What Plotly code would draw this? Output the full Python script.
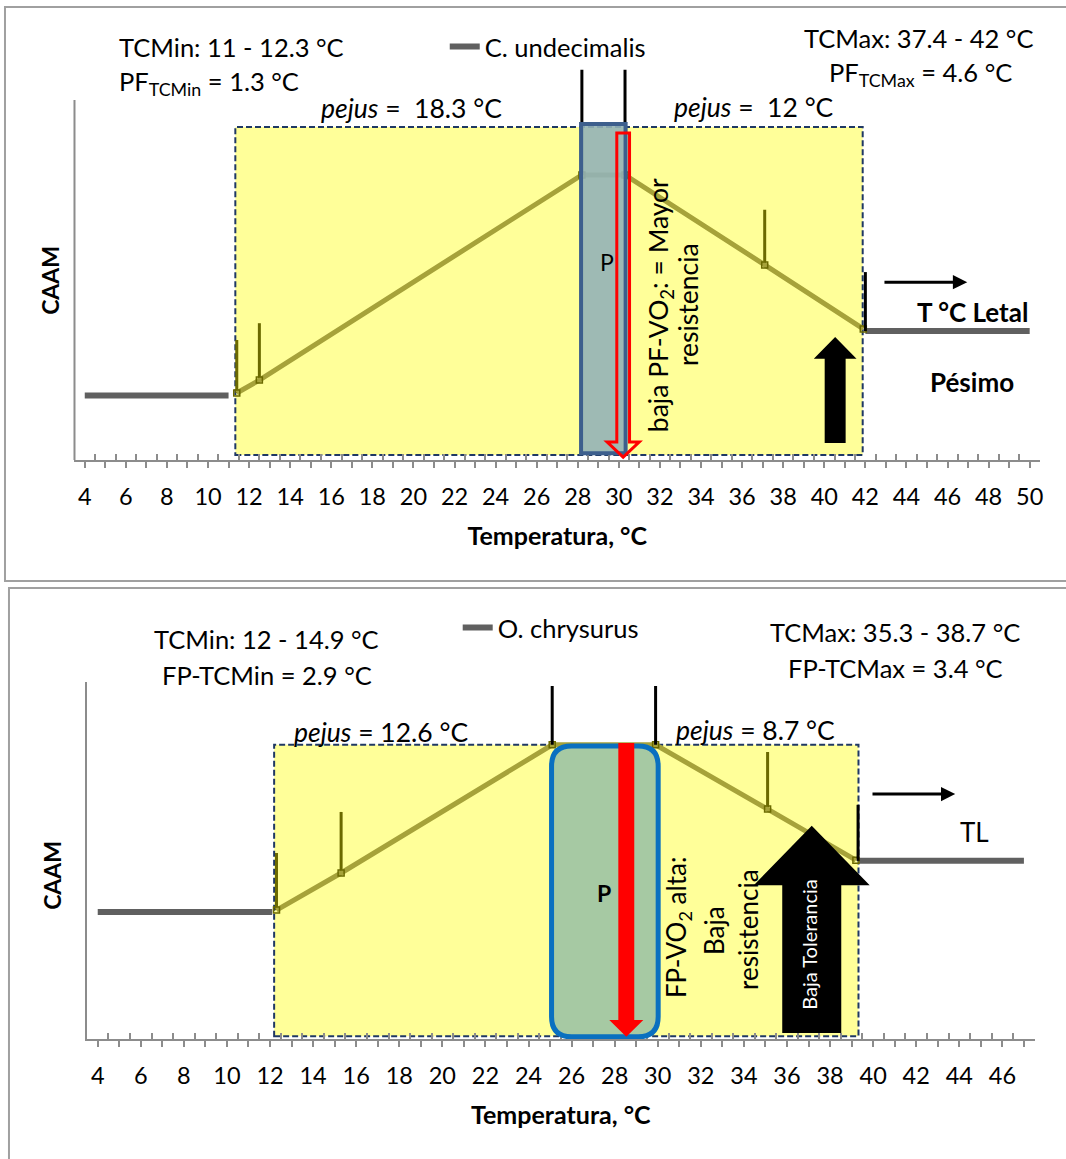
import plotly.graph_objects as go

W, H = 1066, 1159
FONT = "Lato"

# ---------------- C. undecimalis (upper panel) ----------------
cu_low_x = [4, 11]
cu_low_y = [1.79, 1.79]
cu_high_x = [42, 50]
cu_high_y = [3.58, 3.58]
cu_curve_x = [11.4, 12.5, 28.2, 30.3, 37.1, 41.9]
cu_curve_y = [1.86, 2.22, 7.92, 7.92, 5.42, 3.64]
cu_curve_err = [1.47, 1.58, 0, 0, 1.53, 0]
cu_crit_x = [28.2, 30.3, 42]
cu_crit_y = [7.92, 7.92, 3.58]
cu_crit_err = [2.92, 2.92, 1.64]
cu_pejus_zone = [11.33, 41.87]
cu_opt_zone = [28.16, 30.33]
cu_ticks = list(range(4, 51))

# ---------------- O. chrysurus (lower panel) ----------------
oc_low_x = [4, 12.1]
oc_low_y = [3.56, 3.56]
oc_high_x = [39.3, 47]
oc_high_y = [4.99, 4.99]
oc_curve_x = [12.3, 15.3, 25.1, 29.9, 35.1, 39.2]
oc_curve_y = [3.61, 4.65, 8.24, 8.24, 6.44, 5.01]
oc_curve_err = [1.6, 1.71, 0, 0, 1.6, 0]
oc_crit_x = [25.1, 29.9, 39.3]
oc_crit_y = [8.24, 8.24, 4.99]
oc_crit_err = [1.65, 1.65, 1.57]
oc_pejus_zone = [12.19, 39.32]
oc_opt_zone = [25.07, 30.02]
oc_ticks = list(range(4, 48))

# ---------------- styles ----------------
GRAY = "#606060"
OLIVE = "#a6a23a"
OLIVE_DARK = "#6b6900"
YELLOW = "#ffff99"
NAVY = "#1f3864"
AXIS = "#8c8c8c"
TXT = 25.5      # body text size
ITXT = 26.5     # lines containing italic "pejus"


def px2paper(px, py):
    return px / W, 1 - py / H


def add_series(fig, xa, ya, low, high, curve, crit, name, legend):
    lx, ly = low
    hx, hy = high
    cx, cy, ce = curve
    kx, ky, ke = crit
    fig.add_trace(go.Scatter(x=lx, y=ly, mode="lines", name=name, legend=legend,
                             line=dict(color=GRAY, width=6), xaxis=xa, yaxis=ya))
    fig.add_trace(go.Scatter(x=hx, y=hy, mode="lines", showlegend=False,
                             line=dict(color=GRAY, width=6), xaxis=xa, yaxis=ya))
    fig.add_trace(go.Scatter(
        x=cx, y=cy, mode="lines+markers", showlegend=False,
        line=dict(color=OLIVE, width=5),
        marker=dict(symbol="square-open", size=6, color=OLIVE_DARK, line=dict(width=1.5)),
        error_y=dict(type="data", symmetric=False, array=ce, arrayminus=[0] * len(ce),
                     color=OLIVE_DARK, thickness=3, width=0),
        xaxis=xa, yaxis=ya))
    fig.add_trace(go.Scatter(
        x=kx, y=ky, mode="markers", showlegend=False,
        marker=dict(size=1, color="rgba(0,0,0,0)"),
        error_y=dict(type="data", symmetric=False, array=ke, arrayminus=[0] * len(ke),
                     color="black", thickness=3, width=0),
        xaxis=xa, yaxis=ya))


def block_arrow(cx, sw, hw, tail, base, tip):
    return (f"M{cx - sw},{tail} L{cx + sw},{tail} L{cx + sw},{base} L{cx + hw},{base} "
            f"L{cx},{tip} L{cx - hw},{base} L{cx - sw},{base} Z")


def rounded_rect(x0, x1, y0, y1, rx, ry):
    return (f"M{x0 + rx},{y0} L{x1 - rx},{y0} Q{x1},{y0} {x1},{y0 + ry} "
            f"L{x1},{y1 - ry} Q{x1},{y1} {x1 - rx},{y1} L{x0 + rx},{y1} "
            f"Q{x0},{y1} {x0},{y1 - ry} L{x0},{y0 + ry} Q{x0},{y0} {x0 + rx},{y0} Z")


def right_arrow(shapes, xr, yr, x0, x1, y, head_len, head_half):
    """Thin horizontal arrow pointing right, as a shaft line plus a solid head."""
    shapes.append(dict(type="line", xref=xr, yref=yr, x0=x0, x1=x1 - head_len * 0.8,
                       y0=y, y1=y, line=dict(color="black", width=3), layer="above"))
    shapes.append(dict(type="path", xref=xr, yref=yr, layer="above",
                       path=f"M{x1 - head_len},{y - head_half} L{x1},{y} "
                            f"L{x1 - head_len},{y + head_half} Z",
                       fillcolor="black", line=dict(width=0)))


fig = go.Figure()
add_series(fig, "x", "y", (cu_low_x, cu_low_y), (cu_high_x, cu_high_y),
           (cu_curve_x, cu_curve_y, cu_curve_err), (cu_crit_x, cu_crit_y, cu_crit_err),
           "C. undecimalis", "legend")
add_series(fig, "x2", "y2", (oc_low_x, oc_low_y), (oc_high_x, oc_high_y),
           (oc_curve_x, oc_curve_y, oc_curve_err), (oc_crit_x, oc_crit_y, oc_crit_err),
           "O. chrysurus", "legend2")

shapes = []
# panel frames
for (x0, y0, x1, y1) in [(5, 7, 1075, 581), (9, 588, 1075, 1170)]:
    a, b = px2paper(x0, y0)
    c, d = px2paper(x1, y1)
    shapes.append(dict(type="rect", xref="paper", yref="paper", x0=a, x1=c, y0=d, y1=b,
                       line=dict(color="#a0a0a0", width=2), fillcolor="rgba(0,0,0,0)",
                       layer="below"))

# upper panel: value axis line (drawn only up to 10)
shapes.append(dict(type="line", xref="x domain", yref="y", x0=0, x1=0, y0=0, y1=10,
                   line=dict(color=AXIS, width=2)))
# upper panel zones
shapes.append(dict(type="rect", xref="x", yref="y", x0=cu_pejus_zone[0], x1=cu_pejus_zone[1],
                   y0=0.14, y1=9.25, fillcolor=YELLOW, layer="below",
                   line=dict(color=NAVY, width=2, dash="6px,3px")))
shapes.append(dict(type="rect", xref="x", yref="y", x0=cu_opt_zone[0], x1=cu_opt_zone[1],
                   y0=0.19, y1=9.33, fillcolor="rgba(147,178,183,0.9)", layer="above",
                   line=dict(color="#3d5f8d", width=4)))
shapes.append(dict(type="path", xref="x", yref="y", layer="above",
                   path=block_arrow(30.21, 0.31, 0.78, 9.08, 0.50, 0.08),
                   fillcolor="rgba(0,0,0,0)", line=dict(color="#ff0000", width=3)))
shapes.append(dict(type="path", xref="x", yref="y", layer="above",
                   path=block_arrow(40.53, 0.51, 1.04, 0.47, 2.81, 3.42),
                   fillcolor="black", line=dict(width=0)))
right_arrow(shapes, "x", "y", 42.93, 46.96, 4.94, 0.7, 0.2)

# lower panel zones
shapes.append(dict(type="rect", xref="x2", yref="y2", x0=oc_pejus_zone[0], x1=oc_pejus_zone[1],
                   y0=0.08, y1=8.24, fillcolor=YELLOW, layer="below",
                   line=dict(color=NAVY, width=2, dash="6px,3px")))
shapes.append(dict(type="path", xref="x2", yref="y2", layer="above",
                   path=rounded_rect(oc_opt_zone[0], oc_opt_zone[1], 0.06, 8.21, 0.93, 0.56),
                   fillcolor="#a6c9a3", line=dict(color="#0a70c0", width=5)))
shapes.append(dict(type="path", xref="x2", yref="y2", layer="above",
                   path=block_arrow(28.54, 0.37, 0.79, 8.29, 0.53, 0.06),
                   fillcolor="#ff0000", line=dict(width=0)))
shapes.append(dict(type="path", xref="x2", yref="y2", layer="above",
                   path=block_arrow(37.15, 1.37, 2.69, 0.17, 4.31, 5.97),
                   fillcolor="black", line=dict(width=0)))
right_arrow(shapes, "x2", "y2", 39.97, 43.81, 6.86, 0.66, 0.2)

ann = []


def label(px, py, text, size=TXT, bold=False, angle=0, color="black", xanchor="center"):
    x, y = px2paper(px, py)
    if bold:
        text = f"<b>{text}</b>"
    ann.append(dict(x=x, y=y, xref="paper", yref="paper", text=text, showarrow=False,
                    textangle=angle, xanchor=xanchor, yanchor="middle", align="center",
                    font=dict(family=FONT, size=size, color=color)))


# upper panel labels
label(117, 47, "TCMin: 11 - 12.3 °C", xanchor="left")
label(117, 83, "PF<sub>TCMin</sub> = 1.3 °C", xanchor="left")
label(320, 108, "<i>pejus</i> =  18.3 °C", size=ITXT, xanchor="left")
label(1038, 38, "TCMax: 37.4 - 42 °C", xanchor="right")
label(923, 74, "PF<sub>TCMax</sub> = 4.6 °C")
label(756, 107, "<i>pejus</i> =  12 °C", size=ITXT)
label(609, 262, "P", size=23)
label(662, 305, "baja PF-VO<sub>2</sub>: = Mayor", size=26.5, angle=-90)
label(690, 305, "resistencia", size=26.5, angle=-90)
label(975, 312, "T °C Letal", size=26, bold=True)
label(975, 382, "Pésimo", size=26, bold=True)
label(50, 280, "CAAM", size=23, bold=True, angle=-90)

# lower panel labels
label(267, 639, "TCMin: 12 - 14.9 °C")
label(268, 675, "FP-TCMin = 2.9 °C")
label(898, 632, "TCMax: 35.3 - 38.7 °C")
label(898, 668, "FP-TCMax = 3.4 °C")
label(382, 732, "<i>pejus</i> = 12.6 °C", size=ITXT)
label(758, 730, "<i>pejus</i> = 8.7 °C", size=ITXT)
label(606, 893, "P", size=23, bold=True)
label(679, 927, "FP-VO<sub>2</sub> alta:", size=26, angle=-90)
label(716, 930, "Baja", size=26, angle=-90)
label(750, 930, "resistencia", size=26, angle=-90)
label(811, 945, "Baja Tolerancia", size=20, angle=-90, color="white")
label(977, 832, "TL", size=26)
label(52, 875, "CAAM", size=23, bold=True, angle=-90)


def xaxis_cfg(ticks, rng, domain, anchor):
    return dict(
        domain=domain, anchor=anchor, range=rng, showgrid=False, zeroline=False,
        showline=True, linecolor=AXIS, linewidth=2,
        tickmode="array", tickvals=ticks,
        ticktext=[str(t) if t % 2 == 0 else "" for t in ticks],
        ticks="outside", ticklen=6, tickwidth=1.5, tickcolor=AXIS, ticklabelstandoff=9,
        tickfont=dict(family=FONT, size=23.5, color="black"),
        minor=dict(tickmode="array", tickvals=[t + 0.5 for t in ticks[:-1]],
                   ticks="inside", ticklen=6, tickwidth=1.5, tickcolor=AXIS),
        title=dict(text="<b>Temperatura, °C</b>", standoff=18,
                   font=dict(family=FONT, size=25, color="black")),
    )


fig.update_layout(
    width=W, height=H, margin=dict(l=0, r=0, t=0, b=0),
    paper_bgcolor="white", plot_bgcolor="rgba(0,0,0,0)",
    xaxis=xaxis_cfg(cu_ticks, [3.5, 50.5], [74.7 / W, 1042.9 / W], "y"),
    yaxis=dict(domain=[1 - 460 / H, 1 - 60 / H], range=[0, 400 / 36], anchor="x",
               showline=False, showgrid=False, zeroline=False, showticklabels=False,
               ticks=""),
    xaxis2=xaxis_cfg(oc_ticks, [3.5, 47.5], [87.2 / W, 1037.6 / W], "y2"),
    yaxis2=dict(domain=[1 - 1039 / H, 1 - 682 / H], range=[0, 10], anchor="x2",
                showline=True, linecolor=AXIS, linewidth=2, showgrid=False,
                zeroline=False, showticklabels=False, ticks=""),
    legend=dict(x=446 / W, y=1 - 47 / H, xanchor="left", yanchor="middle",
                bgcolor="rgba(0,0,0,0)", font=dict(family=FONT, size=TXT, color="black")),
    legend2=dict(x=459 / W, y=1 - 628 / H, xanchor="left", yanchor="middle",
                 bgcolor="rgba(0,0,0,0)", font=dict(family=FONT, size=TXT, color="black")),
    shapes=shapes, annotations=ann,
)

fig.write_html("out.html")
